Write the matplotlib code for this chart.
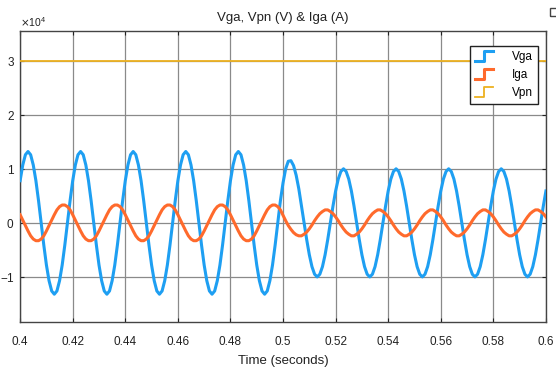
import numpy as np
import matplotlib.pyplot as plt
from matplotlib.legend_handler import HandlerBase
from matplotlib.lines import Line2D
from matplotlib.patches import Rectangle
from matplotlib.ticker import ScalarFormatter, FuncFormatter

plt.rcParams['font.family'] = ['Liberation Sans Narrow', 'Liberation Sans', 'DejaVu Sans']
plt.rcParams['axes.unicode_minus'] = False

# sample times (1 ms steps) and scope values, in units of 1e4
time = np.linspace(0.4, 0.6, 201)

vga = [
    0.78, 1.07, 1.26, 1.32, 1.26, 1.07, 0.78, 0.41, 0.00, -0.41, -0.78, -1.07, -1.26, -1.32, -1.26, -1.07, -0.78, -0.41, 0.00, 0.41,
    0.78, 1.07, 1.26, 1.32, 1.26, 1.07, 0.78, 0.41, 0.00, -0.41, -0.78, -1.07, -1.26, -1.32, -1.26, -1.07, -0.78, -0.41, 0.00, 0.41,
    0.78, 1.07, 1.26, 1.32, 1.26, 1.07, 0.78, 0.41, 0.00, -0.41, -0.78, -1.07, -1.26, -1.32, -1.26, -1.07, -0.78, -0.41, 0.00, 0.41,
    0.78, 1.07, 1.26, 1.32, 1.26, 1.07, 0.78, 0.41, 0.00, -0.41, -0.78, -1.07, -1.26, -1.32, -1.26, -1.07, -0.78, -0.41, 0.00, 0.41,
    0.78, 1.07, 1.26, 1.32, 1.26, 1.07, 0.78, 0.41, 0.00, -0.41, -0.78, -1.07, -1.26, -1.32, -1.26, -1.07, -0.78, -0.41, 0.00, 0.41,
    0.74, 1.00, 1.14, 1.15, 1.06, 0.88, 0.63, 0.32, 0.00, -0.31, -0.59, -0.81, -0.95, -1.00, -0.95, -0.81, -0.59, -0.31, 0.00, 0.31,
    0.59, 0.81, 0.95, 1.00, 0.95, 0.81, 0.59, 0.31, 0.00, -0.31, -0.59, -0.81, -0.95, -1.00, -0.95, -0.81, -0.59, -0.31, 0.00, 0.31,
    0.59, 0.81, 0.95, 1.00, 0.95, 0.81, 0.59, 0.31, 0.00, -0.31, -0.59, -0.81, -0.95, -1.00, -0.95, -0.81, -0.59, -0.31, 0.00, 0.31,
    0.59, 0.81, 0.95, 1.00, 0.95, 0.81, 0.59, 0.31, 0.00, -0.31, -0.59, -0.81, -0.95, -1.00, -0.95, -0.81, -0.59, -0.31, 0.00, 0.31,
    0.59, 0.81, 0.95, 1.00, 0.95, 0.81, 0.59, 0.31, 0.00, -0.31, -0.59, -0.81, -0.95, -1.00, -0.95, -0.81, -0.59, -0.31, 0.00, 0.31,
    0.59,
]

iga = [
    0.15, 0.05, -0.05, -0.15, -0.24, -0.30, -0.33, -0.33, -0.30, -0.24, -0.15, -0.05, 0.05, 0.15, 0.24, 0.30, 0.33, 0.33, 0.30, 0.24,
    0.15, 0.05, -0.05, -0.15, -0.24, -0.30, -0.33, -0.33, -0.30, -0.24, -0.15, -0.05, 0.05, 0.15, 0.24, 0.30, 0.33, 0.33, 0.30, 0.24,
    0.15, 0.05, -0.05, -0.15, -0.24, -0.30, -0.33, -0.33, -0.30, -0.24, -0.15, -0.05, 0.05, 0.15, 0.24, 0.30, 0.33, 0.33, 0.30, 0.24,
    0.15, 0.05, -0.05, -0.15, -0.24, -0.30, -0.33, -0.33, -0.30, -0.24, -0.15, -0.05, 0.05, 0.15, 0.24, 0.30, 0.33, 0.33, 0.30, 0.24,
    0.15, 0.05, -0.05, -0.15, -0.24, -0.30, -0.33, -0.33, -0.30, -0.24, -0.15, -0.05, 0.05, 0.15, 0.24, 0.30, 0.33, 0.33, 0.30, 0.24,
    0.14, 0.04, -0.05, -0.12, -0.18, -0.22, -0.24, -0.24, -0.21, -0.17, -0.11, -0.04, 0.04, 0.11, 0.17, 0.21, 0.24, 0.24, 0.21, 0.17,
    0.11, 0.04, -0.04, -0.11, -0.17, -0.21, -0.24, -0.24, -0.21, -0.17, -0.11, -0.04, 0.04, 0.11, 0.17, 0.21, 0.24, 0.24, 0.21, 0.17,
    0.11, 0.04, -0.04, -0.11, -0.17, -0.21, -0.24, -0.24, -0.21, -0.17, -0.11, -0.04, 0.04, 0.11, 0.17, 0.21, 0.24, 0.24, 0.21, 0.17,
    0.11, 0.04, -0.04, -0.11, -0.17, -0.21, -0.24, -0.24, -0.21, -0.17, -0.11, -0.04, 0.04, 0.11, 0.17, 0.21, 0.24, 0.24, 0.21, 0.17,
    0.11, 0.04, -0.04, -0.11, -0.17, -0.21, -0.24, -0.24, -0.21, -0.17, -0.11, -0.04, 0.04, 0.11, 0.17, 0.21, 0.24, 0.24, 0.21, 0.17,
    0.11,
]

vpn_time = [0.4, 0.6]
vpn = [3.0, 3.0]

x_ticks = [0.4, 0.42, 0.44, 0.46, 0.48, 0.5, 0.52, 0.54, 0.56, 0.58, 0.6]
y_ticks = [-1, 0, 1, 2, 3]

BLUE = '#1E9FF2'
ORANGE = '#FF6A2C'
YELLOW = '#EDB120'


class StepHandler(HandlerBase):
    # scope-style legend icon: a little step
    def create_artists(self, legend, orig_handle, xdescent, ydescent,
                       width, height, fontsize, trans):
        x0, y0 = -xdescent, -ydescent
        xs = [x0, x0 + 0.5 * width, x0 + 0.5 * width, x0 + width]
        ys = [y0, y0, y0 + height, y0 + height]
        line = Line2D(xs, ys, color=orig_handle.get_color(),
                      lw=orig_handle.get_linewidth(), transform=trans)
        return [line]


fig = plt.figure(figsize=(5.56, 3.76), dpi=100)
ax = fig.add_axes([0.0362, 0.1428, 0.9457, 0.7748])

scale = 1e4
l_vpn, = ax.plot(vpn_time, np.array(vpn) * scale, color=YELLOW, lw=1.3, label='Vpn', zorder=3)
l_vga, = ax.plot(time, np.array(vga) * scale, color=BLUE, lw=2.2, label='Vga', zorder=3)
l_iga, = ax.plot(time, np.array(iga) * scale, color=ORANGE, lw=2.2, label='Iga', zorder=4)

ax.set_xlim(0.4, 0.6)
ax.set_ylim(-1.84 * scale, 3.55 * scale)
ax.set_xticks(x_ticks)
ax.xaxis.set_major_formatter(FuncFormatter(lambda v, p: f'{v:g}'))
ax.set_yticks(np.array(y_ticks) * scale)
fmt = ScalarFormatter(useMathText=True)
fmt.set_powerlimits((0, 0))
ax.yaxis.set_major_formatter(fmt)
ax.yaxis.get_offset_text().set_fontsize(7.5)
ax.yaxis.get_offset_text().set_color('#555555')

ax.set_axisbelow(True)
ax.grid(True, color='#8a8a8a', lw=0.9)
ax.tick_params(direction='in', top=True, right=True, length=3, width=0.8,
               labelsize=8.5, colors='#222222')
ax.tick_params(axis='x', pad=10)
ax.tick_params(axis='y', pad=4)
for s in ax.spines.values():
    s.set_color('#444444')
    s.set_linewidth(1.0)

ax.set_title('Vga, Vpn (V) & Iga (A)', fontsize=9.5, pad=7, color='#222222')
ax.set_xlabel('Time (seconds)', fontsize=9.5, color='#222222', labelpad=5)

leg = ax.legend([l_vga, l_iga, l_vpn], ['Vga', 'Iga', 'Vpn'],
                handler_map={Line2D: StepHandler()},
                loc='upper right', bbox_to_anchor=(0.985, 0.9485),
                borderaxespad=0, fontsize=8.5, handlelength=1.5,
                handleheight=0.9, handletextpad=1.6, labelspacing=0.5,
                borderpad=0.45, fancybox=False, framealpha=1,
                edgecolor='#222222')
leg.get_frame().set_linewidth(1.0)

# little undock icon of the scope window
fig.patches.append(Rectangle((550 / 556, 1 - 16 / 376), 8 / 556, 8 / 376,
                             transform=fig.transFigure, fill=False,
                             ec='#444444', lw=1.0))

fig.savefig('out.png', dpi=100)
